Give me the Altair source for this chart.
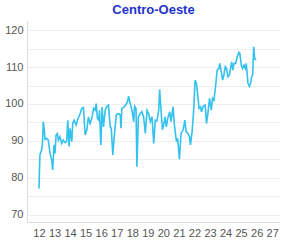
import altair as alt
import pandas as pd

# decimal year (two-digit) and index value
years = [12.0, 12.06, 12.17, 12.22, 12.28, 12.34, 12.39, 12.49, 12.60, 12.71, 12.82, 12.88, 12.97,
         13.03, 13.10, 13.18, 13.25, 13.35, 13.46, 13.57, 13.68, 13.78, 13.85, 13.94,
         14.00, 14.11, 14.17, 14.26, 14.39, 14.47, 14.65, 14.75, 14.86, 14.97,
         15.08, 15.18, 15.29, 15.40, 15.51, 15.61, 15.68, 15.76, 15.85, 15.89, 15.98,
         16.06, 16.15, 16.26, 16.37, 16.47, 16.58, 16.65, 16.75, 16.84, 16.97,
         17.12, 17.23, 17.27, 17.33, 17.48, 17.61, 17.70, 17.76, 17.87, 17.98,
         18.09, 18.15, 18.24, 18.30, 18.39, 18.52, 18.62, 18.73, 18.84, 18.95,
         19.05, 19.16, 19.27, 19.38, 19.48, 19.59, 19.70, 19.76, 19.85, 19.94,
         20.02, 20.11, 20.19, 20.28, 20.41, 20.49, 20.62, 20.71, 20.84, 20.92,
         21.03, 21.14, 21.27, 21.38, 21.46, 21.57, 21.68, 21.74, 21.85, 21.96,
         22.04, 22.13, 22.22, 22.30, 22.39, 22.45, 22.56, 22.69, 22.77, 22.86, 22.97,
         23.08, 23.16, 23.25, 23.35, 23.46, 23.57, 23.63, 23.72, 23.81, 23.89, 23.98,
         24.06, 24.15, 24.24, 24.32, 24.39, 24.47, 24.54, 24.65, 24.75, 24.86, 24.92,
         25.01, 25.10, 25.18, 25.27, 25.33, 25.44, 25.53, 25.61, 25.68, 25.74, 25.81, 25.87, 25.96]
values = [77.1, 86.2, 87.5, 88.9, 95.2, 93.0, 90.4, 90.7, 90.2, 86.6, 84.8, 82.1, 88.9,
          86.6, 91.6, 92.0, 90.2, 91.1, 89.3, 90.2, 89.5, 89.8, 95.6, 88.5,
          93.4, 89.8, 94.7, 95.6, 94.3, 95.6, 97.4, 98.8, 99.0, 91.6,
          93.0, 96.5, 94.7, 96.1, 98.8, 98.3, 100.1, 96.1, 95.6, 98.3, 88.9,
          99.2, 93.8, 98.3, 99.4, 99.7, 93.8, 93.4, 86.2, 91.1, 97.0,
          97.4, 97.0, 93.4, 98.8, 99.2, 100.0, 100.6, 102.1, 100.1, 98.3,
          95.2, 99.4, 98.8, 83.0, 96.5, 97.4, 97.9, 96.5, 92.0, 98.3,
          97.4, 95.2, 96.5, 89.3, 95.6, 95.4, 98.3, 103.9, 98.3, 93.0,
          94.3, 96.5, 93.8, 96.1, 97.9, 95.2, 99.2, 94.3, 89.8, 90.7,
          85.0, 92.0, 93.0, 95.6, 92.5, 92.0, 91.1, 88.9, 92.5, 99.2,
          106.5, 105.6, 101.9, 98.8, 99.2, 97.9, 99.4, 99.7, 94.7, 97.4, 101.5,
          98.3, 101.5, 101.0, 104.6, 109.2, 109.6, 111.0, 108.7, 106.5, 107.8, 110.1,
          109.6, 107.4, 107.8, 109.6, 111.4, 109.2, 111.0, 111.0, 112.8, 114.0, 113.7,
          110.5, 109.6, 110.5, 109.6, 111.0, 105.6, 104.8, 105.6, 107.4, 107.8, 115.5, 112.3, 111.9]

x_ticks = list(range(12, 28))
y_grid = [70, 75, 80, 85, 90, 95, 100, 105, 110, 115, 120]

df = pd.DataFrame({"year": years, "value": values})

FONT = "Liberation Sans"

chart = alt.Chart(df).mark_line(color="#33c1ee", strokeWidth=1.6, clip=True).encode(
    x=alt.X("year:Q",
            scale=alt.Scale(domain=[11.23, 27.5], nice=False, zero=False),
            axis=alt.Axis(values=x_ticks, format="d", grid=False, ticks=False,
                          domain=True, domainColor="#dddddd", labelPadding=5,
                          labelFontSize=11, labelColor="#555555", labelFont=FONT,
                          title=None, labelOverlap=False)),
    y=alt.Y("value:Q",
            scale=alt.Scale(domain=[68, 122.5], nice=False, zero=False),
            axis=alt.Axis(values=y_grid, grid=True, gridColor="#eeeeee", ticks=False,
                          domain=True, domainColor="#dddddd", labelPadding=4,
                          labelExpr="datum.value % 10 == 0 ? datum.label : ''",
                          labelFontSize=11, labelColor="#555555", labelFont=FONT,
                          title=None)),
).properties(
    width=253,
    height=201,
    title=alt.TitleParams("Centro-Oeste", font=FONT, fontSize=13, fontWeight="bold",
                          color="#2233cc", anchor="middle", offset=4),
    autosize=alt.AutoSizeParams(type="none"),
    padding={"left": 27, "top": 21, "right": 5, "bottom": 21},
).configure_view(stroke=None)

chart.save("out.html", embed_options={"renderer": "svg", "actions": False})
